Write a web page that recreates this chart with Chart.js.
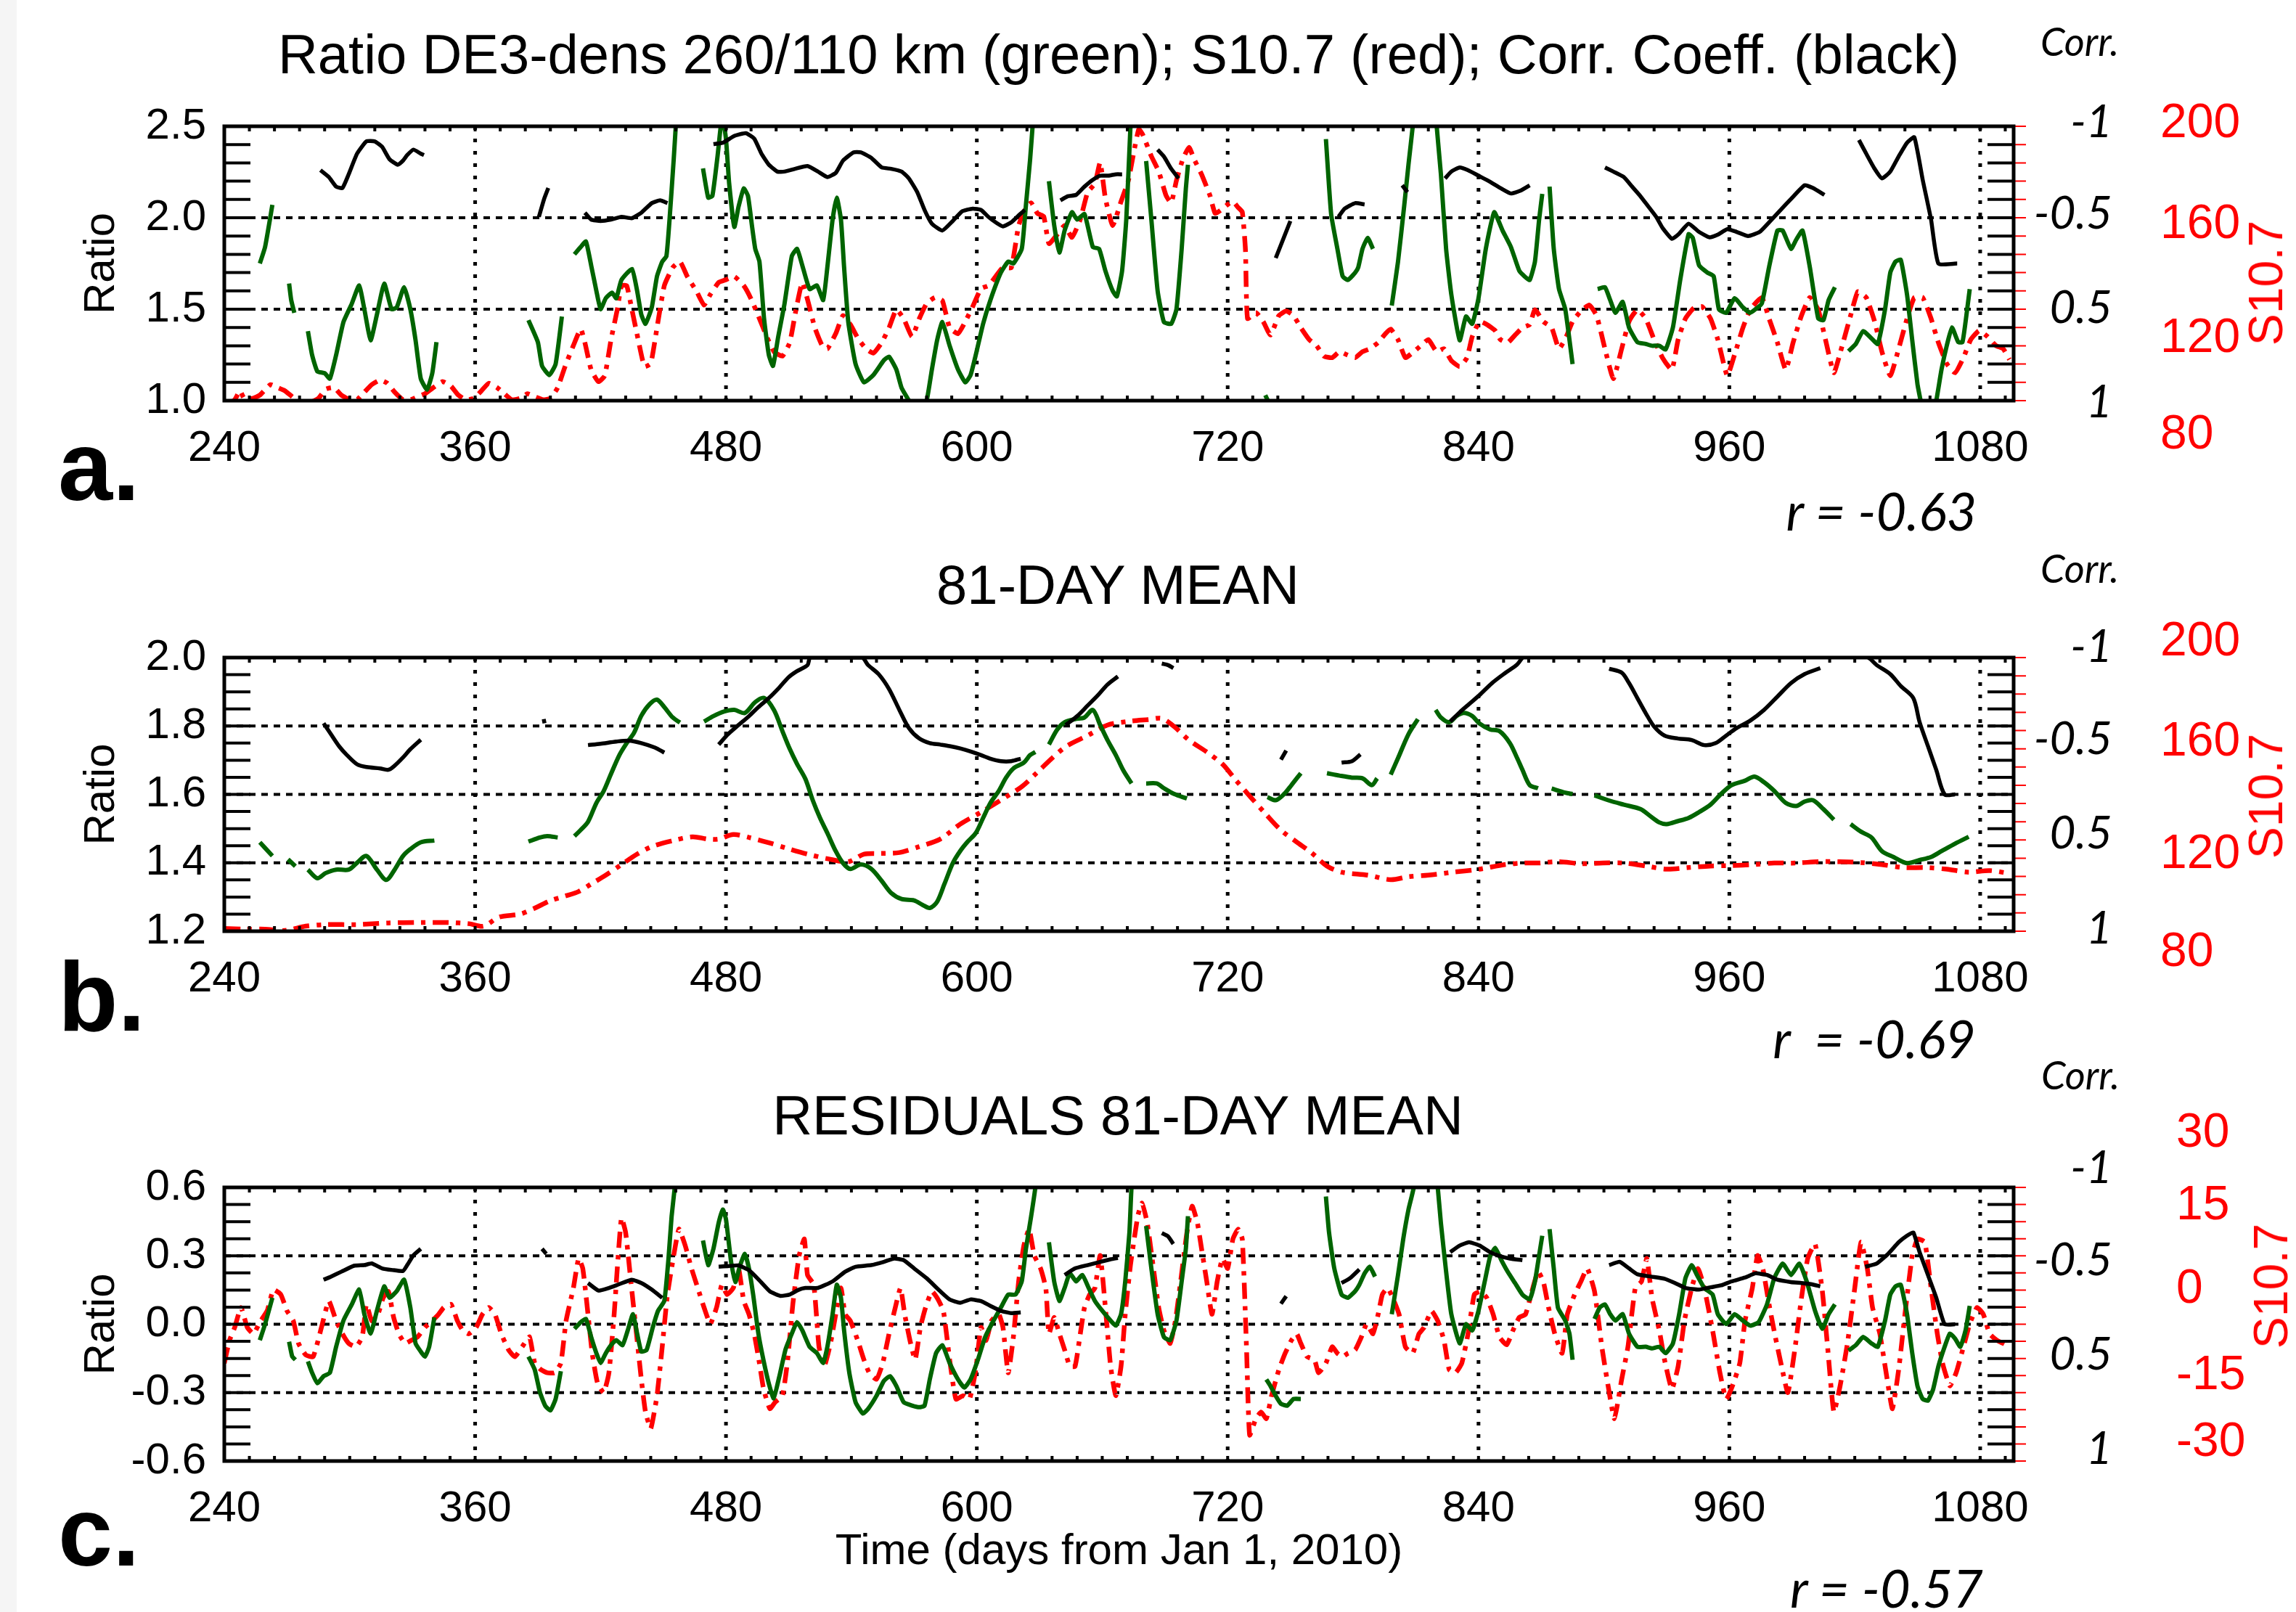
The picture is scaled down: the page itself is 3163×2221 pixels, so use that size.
<!DOCTYPE html>
<html>
<head>
<meta charset="utf-8">
<script src="https://cdn.jsdelivr.net/npm/chart.js@4.4.1/dist/chart.umd.min.js"></script>
<style>
  body { margin: 0; width: 3163px; height: 2221px; background: #fff; position: relative; overflow: hidden;
         font-family: "Liberation Sans", Arial, sans-serif; color: #000; }
  #strip { position: absolute; left: 0; top: 0; width: 23px; height: 2221px; background: #f5f5f5; }
  canvas { position: absolute; left: 0; }
  .t { position: absolute; white-space: pre; line-height: 1; transform: translate(-50%, -50%); }
  .title { font-size: 76px; }
  .corr { font-family: Lato, "Open Sans", sans-serif; font-style: italic; font-size: 62px; transform: translate(-100%, -50%); }
  .corrhead { font-family: Lato, "Open Sans", sans-serif; font-style: italic; font-size: 54px; }
  .sv { color: #f00; font-size: 66px; transform: translate(0, -50%); }
  .sname { color: #f00; font-size: 66px; transform: translate(-50%, -50%) rotate(-90deg); }
  .letter { font-weight: bold; font-size: 135px; transform: none; }
  .rval { font-family: Lato, "Open Sans", sans-serif; font-style: italic; font-size: 72px; }
</style>
</head>
<body>
<div id="strip"></div>
<canvas id="chartA" width="3163" height="531" style="top:121px"></canvas>
<canvas id="chartB" width="3163" height="530" style="top:853px"></canvas>
<canvas id="chartC" width="3163" height="610" style="top:1583px"></canvas>
<script>
// ---- data (day, value); null value = gap in the record ----
const dayTicks = [240, 360, 480, 600, 720, 840, 960, 1080];
const ratioTicksA = [1.0, 1.5, 2.0, 2.5];
const ratioTicksB = [1.2, 1.4, 1.6, 1.8, 2.0];
const ratioTicksC = [-0.6, -0.3, 0.0, 0.3, 0.6];
const corrTickLabels = ['-1', '-0.5', '0.5', '1'];
const s107TickLabelsAB = ['200', '160', '120', '80'];
const s107TickLabelsC = ['30', '15', '0', '-15', '-30'];

// panel a: ratio DE3 260/110 km
const aGreen = [[257,1.75],[259.5,1.84],[263,2.07],[267,null],
 [271,1.64],[272,1.55],[273.5,1.48],[276,null],
 [280,1.38],[282,1.25],[284.5,1.16],[288,1.15],[290.5,1.12],[293.5,1.25],[297,1.43],[301,1.53],[304.5,1.63],[307,1.50],[310,1.33],[313,1.47],[316.5,1.64],[320,1.50],[322.5,1.51],[326,1.62],[329,1.50],[331.5,1.33],[334,1.12],[337,1.06],[339.5,1.15],[341.5,1.32],[360,null],
 [385.5,1.44],[390,1.32],[392,1.19],[395.5,1.14],[398.5,1.20],[401.5,1.46],[404,null],
 [407.5,1.80],[410.5,1.84],[413,1.87],[415.5,1.74],[418,1.60],[420,1.50],[422.5,1.56],[425.5,1.59],[427.5,1.56],[430,1.66],[435,1.72],[437.5,1.60],[439.5,1.47],[441.5,1.42],[444.5,1.51],[447,1.68],[449.5,1.76],[451.5,1.79],[453,1.99],[455,2.32],[456.5,2.6],[458,2.9],[463,null],
 [469,2.27],[471.5,2.11],[473.5,2.12],[476,2.34],[478.2,2.56],[480,2.43],[481.5,2.19],[484,1.95],[486,2.06],[488.5,2.16],[490.5,2.12],[492.5,1.95],[494,1.83],[496,1.76],[498.2,1.45],[500.5,1.25],[502.5,1.19],[505,1.35],[508,1.53],[511.5,1.79],[514,1.83],[516.5,1.74],[520,1.61],[523.5,1.63],[526.5,1.55],[528.5,1.73],[531,1.99],[533,2.11],[535,1.99],[536.5,1.73],[538.5,1.43],[542,1.20],[546,1.10],[550.5,1.14],[555.5,1.22],[558,1.24],[561.5,1.17],[564,1.07],[567.5,1.0],[572,0.9],[576,1.0],[578.5,1.17],[581,1.33],[583.5,1.43],[587,1.30],[591,1.17],[594.5,1.10],[597,1.14],[599.5,1.25],[603,1.42],[606.5,1.55],[611.5,1.70],[615,1.76],[617.5,1.75],[621.5,1.83],[623.5,2.07],[625.5,2.32],[627,2.55],[629,2.9],[632,null],
 [634.5,2.20],[637,1.96],[639.5,1.81],[642,1.93],[645.5,2.03],[648,1.99],[651.5,2.02],[655.5,1.84],[658.5,1.83],[661.5,1.71],[665,1.60],[667,1.57],[669.5,1.71],[671.5,1.99],[673.5,2.5],[675,2.9],[678,null],
 [681,2.31],[683.5,1.99],[686.5,1.60],[689.5,1.43],[693,1.42],[695.5,1.50],[698,1.83],[700,2.16],[701,2.29],[704,null],
 [738,1.03],[740.5,0.97],[742,null],
 [767,2.43],[769.5,2.02],[772.5,1.83],[775,1.68],[777.5,1.66],[781,1.70],[782.5,1.73],[784.5,1.83],[787,1.89],[789.5,1.83],[792,null],
 [798.5,1.52],[801.5,1.76],[804.5,2.07],[806.5,2.29],[809,2.55],[812,3.0],[817,3.0],[820,2.5],[822,2.24],[824.5,1.83],[827,1.58],[831,1.33],[834,1.46],[837,1.42],[840,1.56],[843.5,1.83],[847.5,2.03],[851.5,1.93],[855.5,1.84],[859.5,1.71],[862,1.68],[864.5,1.66],[867,1.76],[869,1.99],[870.5,2.13],[872,null],
 [874,2.17],[876,1.83],[878.5,1.61],[881.5,1.50],[885,1.20],[888,null],
 [897,1.61],[900.5,1.62],[903,1.55],[905.5,1.48],[909,1.54],[912,1.40],[916,1.32],[920,1.31],[923,1.30],[926.5,1.30],[929.5,1.28],[933,1.40],[936.5,1.66],[940.5,1.91],[942.5,1.89],[945.5,1.74],[949.5,1.70],[952.5,1.68],[955,1.50],[958.5,1.48],[962.5,1.56],[966.5,1.51],[970,1.48],[972.5,1.50],[975.5,1.53],[979,1.73],[983,1.93],[985.5,1.93],[989.5,1.83],[992,1.88],[995,1.93],[998.5,1.73],[1002.5,1.45],[1005,1.44],[1007.5,1.55],[1010.5,1.62],[1014,null],
 [1017,1.27],[1020.5,1.31],[1024,1.38],[1028,1.34],[1031,1.31],[1034.5,1.50],[1037,1.70],[1039.5,1.76],[1042,1.77],[1045,1.58],[1047.5,1.33],[1050,1.09],[1051.5,1.0],[1055,0.8],[1059,1.0],[1061.5,1.17],[1064,1.30],[1066.5,1.40],[1069.5,1.32],[1071.5,1.32],[1073,1.43],[1075,1.61]];

const aBlack = [[286,-0.68],[290,-0.63],[293.5,-0.56],[296.5,-0.55],[299.5,-0.65],[303.5,-0.80],[308,-0.89],[312,-0.89],[315.5,-0.85],[319,-0.76],[323,-0.72],[325.5,-0.75],[327.5,-0.79],[330.5,-0.83],[334,-0.80],[335.5,-0.79],[340,null],
 [390.5,-0.34],[393,-0.47],[395,-0.55],[398,null],
 [412.5,-0.37],[415.5,-0.32],[420,-0.31],[425,-0.32],[430,-0.34],[435,-0.33],[439.5,-0.37],[444.5,-0.44],[448.5,-0.46],[452,-0.44],[460,null],
 [474,-0.87],[478.5,-0.88],[484,-0.93],[489.5,-0.95],[493.5,-0.91],[497,-0.80],[500.5,-0.72],[504.5,-0.67],[508,-0.67],[513,-0.69],[519,-0.71],[524,-0.67],[528.5,-0.63],[532.5,-0.66],[536,-0.75],[541,-0.81],[544.5,-0.81],[549.5,-0.77],[554.5,-0.70],[559,-0.69],[564,-0.67],[567.5,-0.62],[571.5,-0.52],[575,-0.39],[578.5,-0.29],[583.5,-0.24],[588.5,-0.31],[593,-0.38],[598,-0.40],[602,-0.39],[605.5,-0.34],[609,-0.30],[612.5,-0.27],[616.5,-0.30],[620,-0.35],[623,-0.39],[630,null],
 [640,-0.46],[643.5,-0.49],[647.5,-0.50],[651.5,-0.56],[655.5,-0.61],[659,-0.64],[663,-0.64],[666.5,-0.65],[669.5,-0.65],[675,null],
 [686.5,-0.83],[689.5,-0.78],[693,-0.69],[696.5,-0.62],[700,null],
 [743,-0.04],[750,-0.31],[755,null],
 [773,-0.34],[776,-0.40],[781,-0.44],[785.5,-0.43],[790,null],
 [803.5,-0.57],[806,-0.52],[810,null],
 [824,-0.62],[827,-0.67],[831,-0.70],[835,-0.68],[840,-0.64],[845,-0.60],[850.5,-0.55],[855.5,-0.51],[860,-0.53],[864.5,-0.57],[870,null],
 [900.5,-0.70],[904.5,-0.67],[909.5,-0.63],[913.5,-0.56],[917.5,-0.49],[921,-0.42],[925,-0.34],[928,-0.26],[932.5,-0.18],[935.5,-0.21],[940.5,-0.29],[945.5,-0.23],[950.5,-0.19],[954.5,-0.21],[959,-0.25],[963.5,-0.23],[969,-0.20],[974.5,-0.23],[979,-0.30],[984.5,-0.39],[989.5,-0.47],[996,-0.57],[1000,-0.55],[1005.5,-0.50],[1012,null],
 [1022,-0.90],[1025.5,-0.80],[1029.5,-0.69],[1033,-0.62],[1037,-0.67],[1041,-0.78],[1045,-0.88],[1048.5,-0.92],[1052.5,-0.61],[1056.5,-0.32],[1060,0.0],[1069,0.0]];

const aRed = [[241,78],[245,80.4],[247.5,84.3],[249.5,81],[253.5,81],[257,82.4],[262,87],[265.5,85.7],[269,84.3],[273.5,81],[279,78.5],[285,81],[288.5,85],[292.5,85.7],[296,82.4],[300,80.4],[303.5,80.4],[307,83.7],[310.5,87],[314.5,89],[318,87.6],[321.5,83.7],[325.5,80.4],[329,80.4],[332.5,81.7],[336,83],[340,85.7],[344.5,88.3],[348.5,86.3],[352,82.4],[355.5,80.4],[359.5,81],[363,84.3],[366.5,87.6],[370.5,85.7],[374,83],[377.5,80.4],[381.5,81],[385,83],[388.5,81.7],[392.5,80.4],[396,81],[399.5,85.7],[403,94.9],[407,104.1],[410.5,111.3],[412.5,105.4],[415.5,93.5],[419,88.3],[422,90.9],[425,106.7],[428,119.8],[430,130.3],[432.5,130.3],[435,119.8],[438,106.7],[441,94.9],[444,96.2],[447,111.9],[450.5,130.3],[454.5,138.2],[458,140.8],[461.5,134.3],[466,127.7],[469.5,121.8],[472.5,126.4],[476.5,131.7],[480,132.9],[484,134.3],[488.5,130.3],[492,124.5],[496,115.9],[499.5,108],[503,101.4],[507,99.5],[510.5,105.4],[513.5,119.8],[516.5,131.7],[519.5,122.5],[522.5,111.9],[526,104.1],[528.5,102.7],[532.5,109.3],[536,117.2],[539.5,113.3],[543.5,106.7],[547,102.7],[550.5,100.8],[554.5,105.4],[558,111.9],[561.5,119.8],[565,115.9],[569,108],[572.5,115.9],[576,122.5],[580,125.1],[583.5,123.8],[587,111.9],[591,109.3],[594.5,114.6],[598,121.1],[602,129],[605.5,130.3],[609,134.3],[612.5,138.2],[616.5,138.2],[620,156.6],[623.5,164.5],[626,166.5],[629,161.9],[632,160.6],[634.5,148.7],[638.5,152.7],[642,156.6],[645.5,151.4],[649.5,159.3],[653,171.1],[656.5,175],[659,184.2],[661.5,168.5],[665,156.6],[669,167.1],[672.5,176.3],[675,188.2],[677.5,198.7],[679.5,196.1],[683.5,186.9],[687,180.3],[690.5,169.8],[693,166.5],[695.5,176.3],[698.5,185.5],[701.5,190.8],[704,185.5],[707.5,179],[711.5,169.8],[714,161.9],[716.5,163.2],[720,165.8],[722.5,167.1],[725,164.5],[727,162.5],[728.5,146.1],[729.5,115.9],[733.5,118.5],[737,114.6],[740.5,108.7],[744.5,117.2],[748,119.2],[751.5,117.2],[755,111.9],[759,106.7],[762.5,104.1],[766,99.5],[770,98.8],[773.5,101.4],[777,100.1],[781,98.8],[784.5,101.4],[788,102.7],[792,105.4],[795.5,109.3],[798,111.3],[801.5,106.7],[805,98.8],[809,101.4],[812.5,104.1],[816,106.7],[820,101.4],[823.5,102.7],[827,97.5],[831,94.9],[834.5,98.8],[837,108],[840.5,114.6],[844,113.3],[848,110.6],[850.5,106.7],[854,105.4],[857.5,108.7],[861,111.9],[864.5,113.3],[867,119.8],[871,114.6],[875,111.9],[878.5,102.7],[882,108],[885,114.6],[889,119.2],[893,121.8],[896.5,117.2],[900.5,102.7],[904.5,89.6],[908.5,102.7],[912,114.6],[916,119.8],[920,115.9],[924,106.7],[928,98.8],[932.5,93.5],[935.5,106.7],[939,115.9],[943,120.5],[947,121.1],[951,115.9],[954.5,106.7],[959,90.9],[962.5,100.1],[966.5,111.9],[970,119.8],[975.5,125.1],[979,115.9],[983,105.4],[987,93.5],[990.5,105.4],[994.5,117.2],[998.5,125.1],[1002.5,119.8],[1006,106.7],[1010,92.2],[1014,104.1],[1018,117.2],[1021.5,127.7],[1025.5,125.1],[1029.5,114.6],[1033,101.4],[1037,90.9],[1041,102.7],[1045,115.9],[1048.5,125.1],[1052.5,125.1],[1056.5,115.9],[1060,105.4],[1064,96.2],[1068,92.2],[1072,98.8],[1075.5,106.7],[1079.5,110.6],[1083.5,108],[1087.5,104.1],[1091,102.7],[1094,98]];

// panel b: 81-day mean
const bGreen = [[257,1.46],[263,1.42],[266,null],
 [270.5,1.41],[274,1.39],[277,null],
 [280,1.38],[284.5,1.355],[288.5,1.37],[293.5,1.38],[299.5,1.38],[303.5,1.40],[308,1.42],[313,1.38],[317.5,1.35],[321.5,1.38],[325.5,1.42],[329,1.44],[334,1.46],[340.5,1.465],[350,null],
 [385.5,1.462],[391,1.474],[394.5,1.478],[399.5,1.474],[403,null],
 [407.5,1.478],[410.5,1.496],[414,1.52],[418,1.575],[421.5,1.61],[425,1.66],[429,1.715],[432.5,1.75],[436,1.78],[439.5,1.83],[443.5,1.864],[447,1.877],[450.5,1.855],[454.5,1.825],[458,1.81],[462,null],
 [469.5,1.813],[474,1.829],[479,1.842],[484,1.847],[489,1.838],[494,1.87],[498.2,1.882],[503,1.846],[507,1.785],[510.5,1.733],[514,1.689],[518,1.645],[521.5,1.583],[525,1.531],[528.5,1.487],[532.5,1.434],[536,1.399],[539.5,1.382],[544.5,1.395],[549.5,1.382],[554.5,1.347],[559,1.312],[564,1.294],[570,1.29],[574,1.277],[577.5,1.268],[581,1.286],[584.5,1.338],[588.5,1.399],[592,1.434],[595.5,1.461],[599.5,1.487],[603,1.531],[606.5,1.575],[610.5,1.61],[614,1.649],[617.5,1.676],[622.5,1.693],[625.5,1.715],[628,1.724],[631,null],
 [634.5,1.746],[638.5,1.79],[642,1.811],[647,1.82],[651.5,1.825],[655.5,1.847],[659,1.803],[662.5,1.759],[666.5,1.715],[670,1.671],[674,1.632],[677,null],
 [681,1.632],[686,1.632],[689.5,1.618],[694.5,1.601],[700.5,1.588],[705,null],
 [739,1.592],[743,1.583],[747,1.601],[750.5,1.627],[755,1.662],[760,null],
 [767.5,1.662],[773.5,1.655],[779.5,1.649],[784.5,1.647],[789,1.627],[791.5,1.647],[795,null],
 [798,1.658],[801.5,1.706],[806.5,1.776],[811,1.82],[815,null],
 [819.5,1.847],[822,1.825],[826,1.811],[829.5,1.829],[833,1.838],[837,1.829],[840.5,1.807],[845.5,1.79],[850,1.785],[855,1.75],[858.5,1.706],[861,1.672],[864.5,1.627],[868.5,1.618],[872,null],
 [875,1.617],[881.5,1.605],[885,1.601],[890,null],
 [895.5,1.597],[902,1.583],[909.5,1.57],[917.5,1.557],[922.5,1.535],[926.5,1.518],[930,1.513],[935.5,1.522],[940.5,1.531],[945.5,1.548],[951,1.57],[956,1.601],[961,1.627],[967.5,1.64],[972,1.652],[976.5,1.636],[981.5,1.61],[987,1.575],[992,1.566],[996,1.579],[1000,1.583],[1005,1.557],[1010,1.526],[1014,null],
 [1018,1.513],[1023,1.491],[1028,1.474],[1033,1.434],[1038.5,1.417],[1045,1.399],[1051,1.408],[1056.5,1.417],[1061.5,1.434],[1068,1.456],[1074.5,1.476]];

const bBlack = [[287.5,-0.52],[291,-0.44],[295,-0.35],[298.5,-0.29],[303.5,-0.22],[308,-0.20],[314.5,-0.19],[318.5,-0.18],[321.5,-0.21],[325.5,-0.27],[329,-0.33],[334,-0.40],[338,null],
 [392.8,-0.55],[393.2,-0.52],[396,null],
 [414,-0.36],[420,-0.37],[427.5,-0.386],[433.5,-0.393],[439.5,-0.375],[446,-0.342],[450.5,-0.305],[455,null],
 [476.5,-0.364],[481,-0.44],[486,-0.507],[491,-0.572],[495.5,-0.638],[500.5,-0.704],[505.5,-0.781],[510,-0.857],[514,-0.901],[519,-0.945],[520.5,-1.0],[545,-1.0],[548,-0.945],[553,-0.879],[558,-0.77],[563,-0.616],[567.5,-0.485],[572.5,-0.408],[577.5,-0.375],[582.5,-0.364],[587,-0.353],[592,-0.336],[597,-0.314],[602,-0.287],[606.5,-0.261],[611.5,-0.243],[616.5,-0.243],[621,-0.261],[625,null],
 [642.5,-0.507],[648,-0.572],[653,-0.649],[658,-0.726],[662.5,-0.803],[667.5,-0.862],[672,null],
 [688.5,-0.956],[691.5,-0.945],[694,-0.923],[697,null],
 [745.5,-0.254],[748,-0.32],[751,null],
 [774.5,-0.232],[779.5,-0.243],[783.5,-0.292],[787,null],
 [826.5,-0.533],[831,-0.6],[835.5,-0.66],[840.5,-0.726],[846.5,-0.814],[853,-0.89],[858.5,-0.95],[861,-1.0],[865,null],
 [902.5,-0.919],[908.5,-0.89],[912,-0.814],[916,-0.704],[920,-0.594],[924,-0.496],[929,-0.43],[935.5,-0.408],[942,-0.397],[948,-0.36],[953.5,-0.375],[958.5,-0.43],[963.5,-0.485],[970,-0.539],[976.5,-0.616],[983,-0.715],[989.5,-0.814],[996,-0.879],[1003.5,-0.923],[1008,null],
 [1026.5,-1.0],[1027.5,-0.989],[1030.5,-0.945],[1037,-0.879],[1042,-0.792],[1048,-0.704],[1051,-0.529],[1055,-0.353],[1059,-0.178],[1063,0.0],[1068,0.0]];

const bRed = [[240,81.2],[250,80.9],[259.5,80.9],[269,80.3],[279,82.2],[288.5,82.9],[303.5,82.9],[318.5,83.6],[332.5,83.8],[347,83.8],[357,83.3],[364,82.2],[371.5,86.2],[381.5,87.5],[388.5,90.1],[396,93.4],[403,95.4],[409.5,97.4],[415.5,100.7],[422.5,104.6],[430,109.2],[437.5,113.8],[444.5,117.1],[454.5,119.7],[464,121.4],[471.5,120.4],[476.5,120.4],[483.5,122.4],[491,121.1],[500.5,118.8],[509,116.4],[519,113.8],[528.5,111.8],[538.5,110.5],[546,113.8],[553,114.1],[563,114.5],[572.5,117.1],[582.5,120.4],[592,126.9],[602,132.2],[611.5,137.5],[621.5,143.4],[628.5,149.3],[636,155.9],[643,161.2],[653,165.8],[662.5,170.4],[672.5,172],[682,172.8],[688.5,173.3],[694.5,169.7],[701.5,163.8],[710,158.6],[717.5,153.3],[723.5,146.7],[731,138.8],[738,131.6],[745.5,124.3],[753,119.1],[760,114.5],[767.5,108.6],[774.5,105.9],[787,104.6],[798,102.6],[806.5,103.9],[816,104.6],[828,105.9],[840.5,107.2],[852.5,109.2],[862,109.9],[868.5,109.9],[878.5,110.5],[889,109.6],[899.5,109.9],[909.5,109.9],[920,108.6],[930,107.2],[940.5,107.9],[951,108.6],[961,108.8],[971.5,109.2],[981.5,109.9],[992,109.9],[1002.5,110.5],[1012.5,110.5],[1023,110.1],[1033,109.2],[1043.5,107.9],[1054,107.9],[1064,107.2],[1074.5,105.9],[1084.5,106.6],[1094,105.3]];

// panel c: residuals from 81-day mean
const cGreen = [[257,-0.07],[259.5,0.0],[263,0.116],[266,null],
 [271,-0.077],[272.5,-0.142],[274,-0.156],[277,null],
 [280,-0.163],[282,-0.213],[284.5,-0.259],[287.5,-0.228],[290.5,-0.213],[293.5,-0.099],[297,0.016],[301,0.087],[304.5,0.152],[307,0.044],[310,-0.041],[313,0.059],[316.5,0.166],[319,0.116],[322.5,0.145],[326,0.195],[329,0.073],[331.5,-0.084],[334,-0.12],[336,-0.142],[338,-0.099],[340.5,0.03],[350,null],
 [385.5,-0.142],[388.5,-0.199],[391,-0.299],[393.5,-0.357],[396,-0.378],[398.5,-0.328],[401,-0.206],[404,null],
 [407.5,-0.02],[410.5,0.009],[413,0.023],[415.5,-0.056],[418,-0.127],[420,-0.17],[422.5,-0.127],[425,-0.092],[427.5,-0.07],[430.5,-0.092],[433,-0.027],[435.5,0.044],[437.5,-0.041],[439.5,-0.12],[442,-0.113],[445,-0.013],[447.5,0.059],[450.5,0.102],[452.5,0.288],[454,0.474],[455.5,0.6],[457.5,0.8],[462,null],
 [469,0.367],[471.5,0.259],[474,0.331],[476.5,0.445],[478.5,0.503],[480,0.46],[482.5,0.27],[484.5,0.185],[486.5,0.25],[489,0.309],[491,0.245],[493,0.13],[495.5,-0.041],[498,-0.16],[500.5,-0.26],[502.8,-0.325],[505.5,-0.23],[508.5,-0.11],[511.5,-0.041],[514,0.009],[516.5,-0.027],[520,-0.099],[523.5,-0.127],[526.5,-0.17],[528.5,-0.099],[531,0.044],[533,0.173],[535,0.116],[536.5,-0.027],[539,-0.213],[542,-0.342],[545.5,-0.392],[548,-0.371],[552,-0.314],[555.5,-0.249],[558.5,-0.228],[561.5,-0.271],[565,-0.342],[569,-0.357],[572.5,-0.364],[575,-0.357],[577.5,-0.242],[580.5,-0.127],[583.5,-0.092],[587,-0.17],[591,-0.242],[594,-0.278],[597,-0.242],[600.5,-0.156],[604,-0.056],[608,0.016],[611.5,0.073],[615,0.13],[618.5,0.13],[621.5,0.188],[623.5,0.331],[626,0.474],[628,0.6],[630,0.8],[632,null],
 [634.5,0.359],[637,0.188],[639.5,0.102],[642,0.159],[644.5,0.223],[647.5,0.188],[650.5,0.216],[653.5,0.159],[656.5,0.102],[660,0.059],[664,0.016],[666.5,-0.006],[669,0.044],[671,0.188],[673,0.402],[674,0.6],[676,0.8],[678,null],
 [681,0.431],[683.5,0.245],[686.5,0.044],[689.5,-0.056],[692.5,-0.07],[695.5,0.016],[698,0.188],[700,0.331],[701,0.474],[704,null],
 [738.5,-0.242],[740.5,-0.271],[743,-0.314],[745.5,-0.349],[748.5,-0.357],[751.5,-0.328],[755,-0.328],[758,null],
 [767,0.56],[768.5,0.402],[771,0.245],[774.5,0.13],[777.5,0.116],[781,0.145],[783,0.173],[785.5,0.223],[788,0.252],[790.5,0.209],[794,null],
 [798.5,0.044],[801.5,0.216],[804,0.374],[806.5,0.503],[809,0.6],[812,0.9],[817,0.9],[820.5,0.6],[822,0.445],[824.5,0.231],[827,0.044],[831,-0.084],[834,0.0],[837,-0.027],[840,0.059],[843,0.188],[845.5,0.295],[848,0.335],[851,0.28],[854,0.23],[857.5,0.18],[861,0.13],[864.5,0.109],[867,0.188],[869,0.302],[870.5,0.388],[872,null],
 [874,0.417],[876,0.245],[878,0.073],[881.5,0.016],[883.5,-0.041],[885,-0.156],[888,null],
 [895.5,0.023],[898,0.073],[900.5,0.087],[903,0.044],[905.5,0.016],[909,0.044],[912,-0.041],[916,-0.099],[920,-0.099],[923,-0.106],[926.5,-0.099],[929.5,-0.127],[933,-0.084],[936,0.044],[939,0.202],[942,0.259],[944.5,0.216],[948,0.159],[952,0.13],[954.5,0.044],[958.5,0.001],[962.5,0.044],[966.5,0.016],[970,-0.006],[974,0.009],[978,0.087],[981.5,0.202],[985.5,0.266],[989.5,0.216],[993.5,0.266],[997,0.188],[1001,0.059],[1004.5,-0.02],[1007.5,0.044],[1010.5,0.087],[1014,null],
 [1017,-0.116],[1020.5,-0.092],[1024,-0.056],[1028,-0.084],[1031,-0.099],[1034.5,0.016],[1037,0.13],[1039.5,0.166],[1042,0.173],[1045,0.044],[1047.5,-0.127],[1050,-0.271],[1052.5,-0.328],[1055,-0.335],[1057.5,-0.285],[1060,-0.185],[1063,-0.099],[1065.5,-0.041],[1068,-0.063],[1070.5,-0.099],[1073,-0.027],[1075,0.08]];

const cBlack = [[287.5,-0.325],[291,-0.348],[296,-0.384],[302,-0.427],[307,-0.432],[310.5,-0.444],[315.5,-0.408],[320.5,-0.396],[325.5,-0.389],[327.5,-0.432],[330.5,-0.504],[334,-0.551],[338,null],
 [392,-0.551],[394,-0.515],[397,null],
 [414,-0.301],[419,-0.246],[424,-0.265],[429,-0.293],[435,-0.325],[439.5,-0.301],[444.5,-0.253],[449.5,-0.193],[455,null],
 [476.5,-0.42],[481,-0.425],[486,-0.43],[491,-0.395],[496,-0.32],[501,-0.24],[506,-0.207],[510.5,-0.217],[514.5,-0.25],[518,-0.265],[524,-0.265],[531,-0.313],[537,-0.384],[542,-0.42],[549.5,-0.432],[555.5,-0.456],[560.5,-0.48],[565,-0.468],[570,-0.408],[576,-0.336],[582.5,-0.241],[587,-0.181],[592,-0.157],[597,-0.181],[602,-0.169],[606.5,-0.134],[611.5,-0.098],[616.5,-0.081],[621,-0.086],[625,null],
 [642,-0.36],[647,-0.408],[653,-0.432],[659,-0.456],[664,-0.475],[667.5,-0.484],[672,null],
 [688.5,-0.666],[691.5,-0.642],[694,-0.587],[697,null],
 [745.5,-0.15],[748,-0.205],[751,null],
 [774.5,-0.301],[778.5,-0.336],[783,-0.401],[787,null],
 [826.5,-0.527],[831,-0.575],[835.5,-0.599],[840.5,-0.575],[845.5,-0.527],[850,-0.499],[855,-0.48],[861,-0.468],[865,null],
 [902.5,-0.432],[907.5,-0.456],[912,-0.408],[916,-0.365],[922.5,-0.348],[929,-0.332],[934,-0.301],[939,-0.265],[945.5,-0.253],[951,-0.27],[956,-0.284],[961,-0.313],[967.5,-0.341],[972.5,-0.372],[978,-0.36],[983,-0.325],[989.5,-0.308],[994.5,-0.301],[999,-0.293],[1003.5,-0.277],[1008,null],
 [1025,-0.42],[1030.5,-0.444],[1036,-0.515],[1041,-0.599],[1045,-0.647],[1048,-0.671],[1051,-0.527],[1055,-0.36],[1059,-0.193],[1063,0.0],[1068,0.0]];

const cRed = [[240,-11.4],[242.5,-4.7],[245,-0.9],[248,4.9],[251,-0.9],[254,-2.8],[257,0.6],[260.5,3.9],[263.5,10.1],[267,8.7],[270,3.9],[273,1],[275.5,-5.6],[279,-9],[282.5,-9.5],[286.5,-0.9],[290,6.8],[293.5,1],[296.5,-2.8],[299.5,-5.6],[303,-6.6],[306,-3.7],[308,5.8],[310.5,1],[313.5,2.9],[316,7.7],[318.5,9.6],[321,2],[323.5,-2.8],[326.5,-5.6],[329.5,-4.7],[332.5,-3.7],[336,-0.9],[339.5,1],[342.5,2.9],[345,4.9],[348.5,5.8],[351.5,1],[354,-1.8],[357,-2.8],[360.5,-0.9],[363.5,2.9],[366.5,4.9],[369.5,2.9],[372.5,-2.8],[376,-7.5],[379,-9.5],[382.5,-6.6],[386,-3.7],[388.5,-11.4],[391.5,-13.3],[394.5,-14.2],[398,-14.2],[401,-11.4],[403.5,1],[407,10.6],[409.5,19.2],[411.5,16.3],[414,2.9],[416,-8.5],[418.5,-17.1],[421.5,-20],[424,-14.2],[426.5,2.9],[428,16.3],[430,31.1],[432,26.8],[434.5,12.5],[437,-1.8],[439.5,-16.1],[441.5,-25.7],[444,-30.5],[447,-20.9],[449.5,-6.6],[452,8.7],[455,20.1],[457.5,27.8],[460.5,23],[463.5,16.3],[466.5,10.6],[469.5,4.9],[472.5,0.1],[475.5,4.9],[478,11.5],[480.5,8.7],[483.5,10.6],[486,16.3],[488.5,6.8],[491,2.9],[493.5,-2.8],[496,-11.4],[498,-19],[501,-24.7],[503.5,-22.8],[507,-20.9],[509.5,-10.5],[512,6],[515,20.1],[517.5,24.9],[519,14.4],[522,11.5],[524.5,-6.6],[527,-12.3],[530,-5.6],[532.5,2.9],[535,10.6],[537,2.9],[539.5,1],[543,-4.7],[546,-10.4],[548.5,-14.2],[552,-16.1],[555,-11.4],[558,-2.8],[561,4.9],[563.5,10.6],[565.5,2.9],[568,-4.7],[570.5,-10.4],[573,-0.9],[575.5,4.9],[578.5,9.6],[581,7.7],[584,3.9],[587,-10.4],[590,-21.9],[593.5,-20.9],[596.5,-21.9],[599.5,-13.3],[602,-0.9],[604.5,-4.7],[607,1],[610.5,2.9],[612.5,-0.9],[615,-14.2],[617.5,-3.7],[620,12.5],[622.5,23],[625,27.8],[627.5,20.1],[630.5,16.3],[633,10.6],[634.5,-2.8],[637,2],[639.5,-2.8],[642,-7.5],[644.5,-12.3],[647,-12.3],[649.5,-2.8],[651.5,4.9],[654,8.7],[656.5,10.6],[659,20.1],[661.5,4.9],[664,-12.3],[666.5,-20.9],[669,-12.3],[671,2.9],[673.5,17.3],[677,31.6],[679,35.4],[681.5,29.7],[684.5,16.3],[687,4.9],[689.5,-1.8],[692.5,-5.6],[695,1],[697.5,12.5],[700.5,26.8],[703,34.5],[705.5,29.7],[707.5,22.1],[710,12.5],[712.5,2.9],[715,12.5],[717.5,19.2],[720,16.3],[722.5,24.9],[725,27.8],[727,24.9],[729,-6.6],[730.5,-32.4],[733.5,-27.6],[736,-25.7],[738.5,-27.6],[741,-20.9],[744.5,-13.3],[747.5,-8.5],[750.5,-4.7],[753,-2.8],[755,-5.6],[758,-9.5],[761.5,-10.4],[763.5,-14.2],[767,-11.4],[770,-6.6],[772.5,-8.5],[775,-9.5],[777.5,-8.5],[781,-7.5],[784,-3.7],[786.5,0.1],[789.5,-2.8],[792,2.9],[794,8.7],[796.5,10.6],[799,7.7],[802,2.9],[805,-6.6],[808.5,-8.5],[811.5,-2.8],[814,-0.9],[817.5,3.9],[820.5,1],[823.5,-4.7],[826,-13.3],[829,-14.2],[832,-11.4],[835,-2.8],[838,8.7],[841,9.6],[844,7.7],[847,2.9],[850,-3.7],[853.5,-6],[856.5,-1.8],[859.5,2],[862.5,2.9],[866,10.6],[868.5,15.4],[871,12.5],[873.5,4.9],[876.5,-2.8],[880,-8.5],[882.5,2.9],[886,8.7],[889,12.5],[892,16.3],[895.5,9.6],[899,-6.6],[902,-18],[905,-27.6],[908.5,-16.1],[911.5,-6.6],[915,10.6],[918,12.5],[920.5,19.2],[923,7.7],[926.5,-1.8],[929,-10.4],[932.5,-19],[935.5,-12.3],[938.5,1],[942,10.6],[945,16.3],[948,10.6],[952,-1.8],[955.5,-14.2],[958.5,-21.9],[961.5,-18],[965,-11.4],[967.5,1],[971,10.6],[973.5,20.1],[976,16.3],[979,5.8],[982,-3.7],[985,-12.3],[988,-20],[991.5,-6.6],[994.5,7.7],[997.5,19.2],[1001,23.5],[1004.5,9.6],[1007,-6.6],[1010,-25.7],[1013,-18],[1016.5,-5.6],[1020,10.6],[1023,24],[1026,16.3],[1028.5,4.9],[1032,-2.8],[1035.5,-16.1],[1038,-24.7],[1041,-13.3],[1044,2.9],[1047.5,20.1],[1050,24.9],[1053.5,24],[1056.5,10.6],[1059.5,-2.8],[1062,-11.4],[1065.5,-18],[1068.5,-14.2],[1072,-6.6],[1075,0.1],[1078.5,4.9],[1081.5,2.9],[1084.5,-2.8],[1088,-4.7],[1091,-5.6],[1094,-6.6]];

// ---- drawing ----
Chart.defaults.font.family = '"Liberation Sans", Arial, sans-serif';
Chart.defaults.color = '#000';

const pts = arr => arr.map(([x, y]) => ({x, y}));

// dotted grid, inward ticks, red outer ticks and the heavy frame
function framePlugin(p) {
  return {
    id: 'frame',
    beforeDatasetsDraw(chart) {
      const {ctx, chartArea: a, scales: {x, y}} = chart;
      ctx.save();
      ctx.strokeStyle = '#000';
      ctx.lineWidth = 5;
      ctx.setLineDash([5, 12]);
      ctx.beginPath();
      p.vGrid.forEach(v => {
        const px = x.getPixelForValue(v);
        ctx.moveTo(px, a.top); ctx.lineTo(px, a.bottom);
      });
      ctx.stroke();
      ctx.lineWidth = 4;
      ctx.setLineDash([9, 8]);
      ctx.beginPath();
      p.hGrid.forEach(v => {
        const py = y.getPixelForValue(v);
        ctx.moveTo(a.left, py); ctx.lineTo(a.right, py);
      });
      ctx.stroke();
      ctx.restore();
    },
    afterDatasetsDraw(chart) {
      const {ctx, chartArea: a, scales: {x, y, s}} = chart;
      ctx.save();
      ctx.setLineDash([]);
      ctx.strokeStyle = '#000';
      ctx.lineWidth = 4;
      ctx.beginPath();
      for (let d = x.min; d <= x.max; d += 12) {
        const px = x.getPixelForValue(d);
        ctx.moveTo(px, a.top); ctx.lineTo(px, a.top + 7);
        ctx.moveTo(px, a.bottom); ctx.lineTo(px, a.bottom - 7);
      }
      ctx.stroke();
      ctx.lineWidth = 4;
      ctx.beginPath();
      for (let v = y.min; v <= y.max + 1e-9; v += p.yStep) {
        const py = y.getPixelForValue(v);
        ctx.moveTo(a.left, py); ctx.lineTo(a.left + 36, py);
        ctx.moveTo(a.right, py); ctx.lineTo(a.right - 36, py);
      }
      ctx.stroke();
      ctx.strokeStyle = '#ff0000';
      ctx.lineWidth = 2;
      ctx.beginPath();
      for (let v = s.min; v <= s.max + 1e-9; v += p.sStep) {
        const py = s.getPixelForValue(v);
        ctx.moveTo(a.right, py); ctx.lineTo(a.right + 17, py);
      }
      ctx.stroke();
      ctx.strokeStyle = '#000';
      ctx.lineWidth = 5;
      ctx.strokeRect(a.left, a.top, a.right - a.left, a.bottom - a.top);
      ctx.restore();
    }
  };
}

function makePanel(id, p) {
  const el = document.getElementById(id);
  const tickFont = {size: 60};
  return new Chart(el, {
    type: 'line',
    data: {
      datasets: [
        {label: 'Corr', data: pts(p.black), yAxisID: 'c', borderColor: '#000', borderWidth: 5.5, order: 1},
        {label: 'Ratio', data: pts(p.green), yAxisID: 'y', borderColor: '#006400', borderWidth: 6, order: 2},
        {label: 'S10.7', data: pts(p.red), yAxisID: 's', borderColor: '#ff0000', borderWidth: 6.5,
         borderDash: [22, 10, 6, 10], order: 3}
      ]
    },
    options: {
      responsive: false,
      devicePixelRatio: 1,
      animation: false,
      events: [],
      spanGaps: false,
      elements: {point: {radius: 0}, line: {tension: p.tension, borderCapStyle: 'butt', borderJoinStyle: 'round'}},
      layout: {padding: {left: 0, right: 389, top: 12, bottom: 0}},
      plugins: {legend: {display: false}, tooltip: {enabled: false}},
      scales: {
        x: {
          type: 'linear', min: 240, max: 1096,
          afterFit: sc => { sc.height = p.xHeight; },
          afterBuildTicks: sc => { sc.ticks = dayTicks.map(v => ({value: v})); },
          grid: {display: false}, border: {display: false},
          ticks: {font: tickFont, padding: 22, maxRotation: 0, autoSkip: false, callback: v => String(v)},
          title: p.xTitle ? {display: true, text: p.xTitle, font: {size: 60}, padding: {top: 0, bottom: 19}} : {display: false}
        },
        y: {
          position: 'left', min: p.yMin, max: p.yMax,
          afterFit: sc => { sc.width = 309; },
          afterBuildTicks: sc => { sc.ticks = p.yTicks.map(v => ({value: v})); },
          grid: {display: false}, border: {display: false},
          ticks: {font: tickFont, padding: 17, autoSkip: false, callback: v => v.toFixed(1)},
          title: {display: true, text: 'Ratio', font: {size: 60}, padding: {top: 104, bottom: 0}}
        },
        c: {position: 'right', min: -1, max: 1, reverse: true, display: false},
        s: {position: 'right', min: p.sMin, max: p.sMax, display: false}
      }
    },
    plugins: [framePlugin(p)]
  });
}

makePanel('chartA', {green: aGreen, black: aBlack, red: aRed, yMin: 1.0, yMax: 2.5, yTicks: ratioTicksA,
  yStep: 0.1, sMin: 80, sMax: 200, sStep: 8, vGrid: dayTicks.slice(1), hGrid: [1.5, 2.0], xHeight: 100, tension: 0.15});
makePanel('chartB', {green: bGreen, black: bBlack, red: bRed, yMin: 1.2, yMax: 2.0, yTicks: ratioTicksB,
  yStep: 0.05, sMin: 80, sMax: 200, sStep: 8, vGrid: dayTicks.slice(1), hGrid: [1.4, 1.6, 1.8], xHeight: 100, tension: 0.3});
makePanel('chartC', {green: cGreen, black: cBlack, red: cRed, yMin: -0.6, yMax: 0.6, yTicks: ratioTicksC,
  yStep: 0.075, sMin: -40, sMax: 40, sStep: 5, vGrid: dayTicks.slice(1), hGrid: [-0.3, 0, 0.3], xHeight: 180, tension: 0.15,
  xTitle: 'Time (days from Jan 1, 2010)'});

// ---- text placed around the panels ----
function addText(cls, text, x, y) {
  const d = document.createElement('div');
  d.className = 't ' + cls;
  d.textContent = text;
  d.style.left = x + 'px';
  d.style.top = y + 'px';
  document.body.appendChild(d);
}

addText('title', 'Ratio DE3-dens 260/110 km (green); S10.7 (red); Corr. Coeff. (black)', 1541, 75);
addText('title', '81-DAY MEAN', 1540, 806);
addText('title', 'RESIDUALS 81-DAY MEAN', 1540, 1537);

[[57, [165, 291, 421, 551], [166, 305, 462, 595], 2976, 390],
 [783, [888, 1015, 1145, 1276], [880, 1018, 1173, 1308], 2976, 1097]].forEach(([hy, cy, sy, sx, ny]) => {
  addText('corrhead', 'Corr.', 2865, hy);
  corrTickLabels.forEach((t, i) => addText('corr', t, 2910, cy[i]));
  s107TickLabelsAB.forEach((t, i) => addText('sv', t, sx, sy[i]));
  addText('sname', 'S10.7', 3121, ny);
});
addText('corrhead', 'Corr.', 2866, 1481);
corrTickLabels.forEach((t, i) => addText('corr', t, 2910, [1606, 1733, 1863, 1993][i]));
s107TickLabelsC.forEach((t, i) => addText('sv', t, 2998, [1557, 1657, 1772, 1891, 1983][i]));
addText('sname', 'S10.7', 3128, 1772);

addText('letter', 'a.', 80, 689 - 114);
addText('letter', 'b.', 80, 1420 - 114);
addText('letter', 'c.', 80, 2157 - 114);

addText('rval', 'r = -0.63', 2592, 703);
addText('rval', 'r  = -0.69', 2582, 1430);
addText('rval', 'r = -0.57', 2599, 2187);
</script>
</body>
</html>
